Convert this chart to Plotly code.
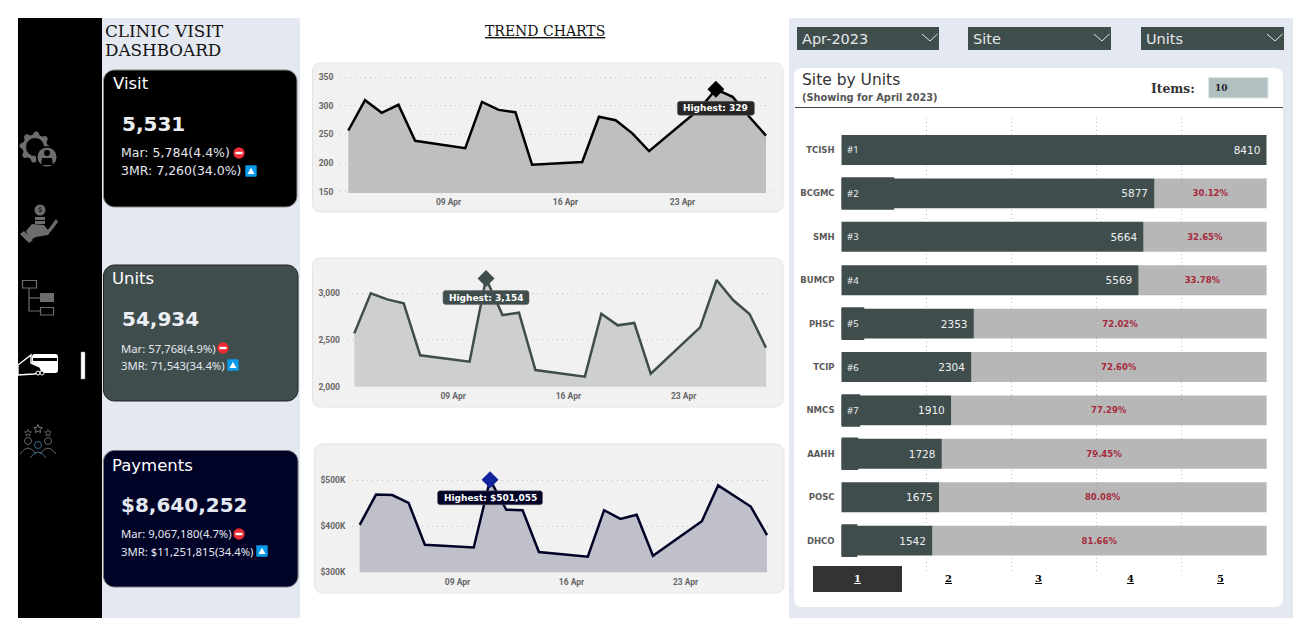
import math
import plotly.graph_objects as go

W, H = 1311, 636

# ---------- data ----------
dates = ["2023-04-03","2023-04-04","2023-04-05","2023-04-06","2023-04-07",
         "2023-04-10","2023-04-11","2023-04-12","2023-04-13","2023-04-14",
         "2023-04-17","2023-04-18","2023-04-19","2023-04-20","2023-04-21",
         "2023-04-24","2023-04-25","2023-04-26","2023-04-27","2023-04-28"]
visits = [257,310,288,302,239,226,307,293,289,197,202,281,275,252,221,294,329,316,281,248]
units = [2569,2996,2932,2890,2335,2267,3154,2765,2790,2178,2107,2779,2655,2680,2139,2633,3139,2925,2776,2416]
payments = [403000,469000,468000,451000,360000,354000,501055,436000,435000,344000,
            334000,435000,416000,425000,336000,411000,489000,466000,443000,381000]
date_ticks = ["2023-04-09","2023-04-16","2023-04-23"]

sites = ["TCISH","BCGMC","SMH","BUMCP","PHSC","TCIP","NMCS","AAHH","POSC","DHCO"]
site_units = [8410,5877,5664,5569,2353,2304,1910,1728,1675,1542]
gap_labels = ["","30.12%","32.65%","33.78%","72.02%","72.60%","77.29%","79.45%","80.08%","81.66%"]
rank_labels = ["#1","#2","#3","#4","#5","#6","#7","","",""]
rank_box = [None,799,None,None,214,None,136,97,None,78]
pages = ["1","2","3","4","5"]
AX_MIN, AX_MAX = -234, 8070

DARK = "#404d4d"
NAVY = "#000226"
SANS = "DejaVu Sans"
SERIF = "DejaVu Serif"
NOTO = "Noto Sans"

shapes, annos = [], []

def px(x): return x / W
def py(y): return 1 - y / H

def path(d, fill=None, line=None, lw=1, layer="below"):
    s = ""
    for it in d:
        if isinstance(it, str):
            s += it
        else:
            s += f"{it[0]}{px(it[1]):.5f},{py(it[2]):.5f} "
    shapes.append(dict(type="path", path=s, xref="paper", yref="paper", layer=layer,
                       fillcolor=fill or "rgba(0,0,0,0)",
                       line=dict(color=line or "rgba(0,0,0,0)", width=lw if line else 0)))

def rrect(x0, y0, x1, y1, r=0, fill=None, line=None, lw=1, layer="below"):
    if r == 0:
        d = [("M",x0,y0),("L",x1,y0),("L",x1,y1),("L",x0,y1),"Z"]
        path(d, fill, line, lw, layer)
        return
    c = 0.45 * r
    s = (f"M{px(x0+r):.5f},{py(y0):.5f} L{px(x1-r):.5f},{py(y0):.5f} "
         f"C{px(x1-c):.5f},{py(y0):.5f} {px(x1):.5f},{py(y0+c):.5f} {px(x1):.5f},{py(y0+r):.5f} "
         f"L{px(x1):.5f},{py(y1-r):.5f} "
         f"C{px(x1):.5f},{py(y1-c):.5f} {px(x1-c):.5f},{py(y1):.5f} {px(x1-r):.5f},{py(y1):.5f} "
         f"L{px(x0+r):.5f},{py(y1):.5f} "
         f"C{px(x0+c):.5f},{py(y1):.5f} {px(x0):.5f},{py(y1-c):.5f} {px(x0):.5f},{py(y1-r):.5f} "
         f"L{px(x0):.5f},{py(y0+r):.5f} "
         f"C{px(x0):.5f},{py(y0+c):.5f} {px(x0+c):.5f},{py(y0):.5f} {px(x0+r):.5f},{py(y0):.5f} Z")
    path([s], fill, line, lw, layer)

def circle(cx, cy, r, fill=None, line=None, lw=1, layer="below"):
    shapes.append(dict(type="circle", xref="paper", yref="paper", layer=layer,
                       x0=px(cx-r), x1=px(cx+r), y0=py(cy+r), y1=py(cy-r),
                       fillcolor=fill or "rgba(0,0,0,0)",
                       line=dict(color=line or "rgba(0,0,0,0)", width=lw if line else 0)))

def text(x, y, s, size, color="#000", family=SANS, anchor="left"):
    annos.append(dict(x=px(x), y=py(y), xref="paper", yref="paper", text=s, showarrow=False,
                      xanchor=anchor, yanchor="middle", borderpad=0, align=anchor,
                      font=dict(size=size, color=color, family=family)))

def poly(pts, fill=None, line=None, lw=1, close=True, layer="below"):
    d = [("M" if i == 0 else "L", p[0], p[1]) for i, p in enumerate(pts)]
    if close:
        d.append("Z")
    path(d, fill, line, lw, layer)

# ---------- page backgrounds ----------
PANEL = "#e4e8f0"
rrect(18, 18, 102, 618, fill="#000000")
rrect(102, 18, 300, 618, fill=PANEL)
rrect(789, 18, 1293, 618, fill=PANEL)
rrect(794, 68, 1283, 607, r=8, fill="#ffffff")

text(103.5, 31, "CLINIC VISIT", 16.8, "#111", SERIF)
text(103.5, 50, "DASHBOARD", 16.8, "#111", SERIF)
text(544.5, 31, "<u>TREND CHARTS</u>", 14, "#111", SERIF, "center")

# ---------- sidebar icons ----------
ICON = "#6d6d6d"
gear = []
for i in range(32):
    a = i / 32 * 2 * math.pi
    r = 15.5 if i % 4 in (0, 1) else 12.5
    gear.append((35 + r * math.cos(a), 147 + r * math.sin(a)))
poly(gear, fill=ICON)
circle(35, 147, 9.5, fill="#000", line=ICON, lw=1)
circle(47, 157, 11, fill="#000")
circle(47, 157, 9.5, fill=ICON)
circle(47, 153, 3, fill="#000")
poly([(41,165),(42,158),(52,158),(53,165)], fill="#000")
circle(40, 210, 5.5, fill=ICON)
text(40, 210, "$", 7, "#000", SANS, "center")
rrect(35, 217, 45, 220, fill=ICON)
rrect(35, 221, 45, 224, fill=ICON)
poly([(26,231),(32,224),(44,225),(48,230),(56,219),(58,222),(48,235),(36,237),(30,240)], fill=ICON)
poly([(20,234),(24,231),(33,240),(29,243)], fill=ICON)
rrect(22.5, 280.5, 36.5, 288, line=ICON, lw=1.2)
rrect(40, 293, 54, 302, fill=ICON)
rrect(40.5, 307.5, 53.5, 315, line=ICON, lw=1.2)
poly([(29,288),(29,311),(40,311)], line=ICON, lw=1.2, close=False)
poly([(29,298),(40,298)], line=ICON, lw=1.2, close=False)
rrect(32, 354, 58, 373, r=2.5, fill="#ffffff")
rrect(33, 358, 57, 361, fill="#000")
poly([(18,365),(31,355),(31,363),(40,367),(42,372),(34,374),(18,375)], fill="#000", line="#ffffff", lw=1.4)
circle(38, 373, 2, fill="#000", line="#fff", lw=1)
circle(42, 373, 2, fill="#000", line="#fff", lw=1)
rrect(81, 352, 85, 379, fill="#ffffff", line="#999", lw=0.5)

def star(cx, cy, r, col):
    pts = []
    for i in range(10):
        a = -math.pi / 2 + i * math.pi / 5
        q = r if i % 2 == 0 else r * 0.45
        pts.append((cx + q * math.cos(a), cy + q * math.sin(a)))
    poly(pts, line=col, lw=1)
star(28, 433, 3.5, "#5c5c5c"); star(38, 429, 4.5, "#777"); star(48, 433, 3.5, "#5c5c5c")
for cx, cy, col in [(28, 441, "#666"), (48, 441, "#666"), (38, 445, "#3d6f8a")]:
    circle(cx, cy, 3.5, line=col, lw=1)
for x0, x1, y0, y1, col in [(20, 36, 454, 446, "#666"), (40, 56, 454, 446, "#666"), (30, 46, 458, 450, "#3d6f8a")]:
    mid = (x0 + x1) / 2
    path([f"M{px(x0):.5f},{py(y0):.5f} Q{px(mid):.5f},{py(y1-4):.5f} {px(x1):.5f},{py(y0):.5f}"], line=col, lw=1)

# ---------- KPI cards ----------
def stop_icon(x, y):
    circle(x, y, 5.7, fill="#ee2b33")
    rrect(x-3.5, y-1.2, x+3.5, y+1.2, fill="#ffffff")

def up_icon(x, y):
    rrect(x-5.7, y-5.7, x+5.7, y+5.7, r=1, fill="#0a9be8")
    poly([(x-3.5, y+3), (x+3.5, y+3), (x, y-3.2)], fill="#ffffff")

rrect(103.5, 70, 297, 207, r=11, fill="#000000", line="#888", lw=1)
text(111.5, 83, "Visit", 16.5, "#ffffff")
text(121, 124, "<b>5,531</b>", 20, "#eceff4")
text(120, 152.5, "Mar: 5,784(4.4%)", 12.5, "#e4e8f0")
text(120, 170.5, "3MR: 7,260(34.0%)", 12.5, "#e4e8f0")
stop_icon(239, 153); up_icon(251, 171)

rrect(103.5, 265, 298, 401, r=11, fill=DARK, line="#222", lw=1)
text(111, 278.5, "Units", 16.5, "#ffffff")
text(121, 319, "<b>54,934</b>", 20, "#eceff4")
text(120, 348, "Mar: 57,768(4.9%)", 11.3, "#e4e8f0", NOTO)
text(120, 365.5, "3MR: 71,543(34.4%)", 11.3, "#e4e8f0", NOTO)
stop_icon(223, 348); up_icon(233, 365)

rrect(103.5, 450.5, 298, 587, r=11, fill=NAVY, line="#777", lw=1)
text(111, 465, "Payments", 16.5, "#ffffff")
text(120, 505, "<b>$8,640,252</b>", 20, "#e4e8f0")
text(120, 533.5, "Mar: 9,067,180(4.7%)", 11.3, "#e4e8f0", NOTO)
text(120, 551, "3MR: $11,251,815(34.4%)", 11.3, "#e4e8f0", NOTO)
stop_icon(239, 534); up_icon(262, 551)

# ---------- trend charts ----------
fig = go.Figure()
layout = {}
TICKF = dict(size=8.5, color="#666", family="Roboto", weight="bold")

def days(s):
    return int(s[-2:])

def trend(idx, values, tickvals, ticktext, panel, dom, x3, x28, y_a, y_b, line_col, fill_col,
          mark_col, label, tip_w, tip_col, tip_dy):
    xn = f"x{idx}"; yn = f"y{idx}"
    rrect(*panel, r=8, fill="#f1f1f1", line="#e4e4e4", lw=1)
    x0, x1, ytop, ybot = dom
    perday = (x28 - x3) / 25
    xr = [3 + (x0 - x3) / perday, 3 + (x1 - x3) / perday]
    def fmt(d):
        whole = int(d); frac = d - whole
        return f"2023-04-{whole:02d} {int(frac*24):02d}:{int((frac*24%1)*60):02d}"
    (va, pa), (vb, pb) = y_a, y_b
    per = (va - vb) / (pb - pa)
    yr = [vb - (ybot - pb) * per, va + (pa - ytop) * per]
    fig.add_trace(go.Scatter(x=dates, y=values, mode="lines", xaxis=xn, yaxis=yn, fill="tozeroy",
                             line=dict(color=line_col, width=2.5, shape="linear"),
                             fillcolor=fill_col, hoverinfo="skip", showlegend=False))
    peak = values.index(max(values))
    fig.add_trace(go.Scatter(x=[dates[peak]], y=[values[peak]], mode="markers", xaxis=xn, yaxis=yn,
                             marker=dict(symbol="diamond", size=13, color=mark_col),
                             hoverinfo="skip", showlegend=False, cliponaxis=False))
    layout["xaxis" + str(idx)] = dict(domain=[px(x0), px(x1)], range=[fmt(xr[0]), fmt(xr[1])], type="date",
                                      anchor=yn, tickvals=date_ticks, ticktext=["09 Apr", "16 Apr", "23 Apr"],
                                      showgrid=False, zeroline=False, showline=False, ticks="outside",
                                      ticklen=1, tickcolor="rgba(0,0,0,0)", automargin=False, tickfont=TICKF)
    layout["yaxis" + str(idx)] = dict(domain=[py(ybot), py(ytop)], range=yr, anchor=xn,
                                      tickvals=tickvals, ticktext=ticktext, showgrid=True,
                                      gridcolor="#c6c6c6", griddash="1px,4px", gridwidth=1, zeroline=False,
                                      showline=False, ticks="outside", ticklen=4, tickcolor="rgba(0,0,0,0)",
                                      automargin=False, tickfont=TICKF)
    mx = x3 + (days(dates[peak]) - 3) * perday
    my = pa + (va - values[peak]) / per
    cy = my + tip_dy
    rrect(mx - tip_w / 2, cy - 7, mx + tip_w / 2, cy + 7, r=2.5, fill=tip_col, line="#666", lw=0.5, layer="above")
    text(mx, cy, "<b>" + label + "</b>", 9, "#ffffff", SANS, "center")

trend(1, visits, [150,200,250,300,350], ["150","200","250","300","350"],
      (312.5, 63, 783, 212), (340, 773, 66, 193), 348.3, 766, (350, 77.3), (150, 191.7),
      "#000000", "#bfbfbf", "#000000", "Highest: 329", 77, "#262626", 19)
trend(2, units, [2000,2500,3000], ["2,000","2,500","3,000"],
      (312.5, 258, 783, 407), (346.7, 771, 262, 386.7), 354.3, 766, (3000, 293), (2000, 386.7),
      DARK, "#cdd0cf", DARK, "Highest: 3,154", 86, DARK, 19)
trend(3, payments, [300000,400000,500000], ["$300K","$400K","$500K"],
      (314.5, 444, 784, 593), (352, 772, 450, 572.3), 359.7, 767, (500000, 480.3), (300000, 572.3),
      NAVY, "#bfc0ca", "#14249c", "Highest: $501,055", 105, NAVY, 18)

# ---------- right panel header ----------
for (x0, x1, s) in [(797, 939, "Apr-2023"), (968, 1111, "Site"), (1141, 1284, "Units")]:
    rrect(x0, 27, x1, 50, fill=DARK)
    text(x0 + 4, 39, s, 14.5, "#e4e8e8")
    poly([(x1-17, 34), (x1-9, 41), (x1-1.5, 34)], line="#e4e8e8", lw=1, close=False)

text(801, 80, "Site by Units", 15.5, "#333")
text(801, 97.5, "<b>(Showing for April 2023)</b>", 9.8, "#555")
text(1150, 88.5, "<b>Items:</b>", 12.3, "#333", "DejaVu Serif")
rrect(1208.5, 77.5, 1268, 98, fill="#b1c1c1", line="#dfe4e4", lw=1)
text(1214, 88, "<b>10</b>", 9, "#222", "DejaVu Serif")
poly([(795, 107.5), (1283, 107.5)], line="#444", lw=1, close=False)

# ---------- bar chart ----------
BX0, BX1 = 841.3, 1266.7
row0, rowh = 150, 43.4
ytop, ybot = 118, 573
drawn = [min(v, AX_MAX) for v in site_units]
gaps = [AX_MAX - v for v in drawn]
fig.add_trace(go.Bar(y=sites, x=gaps, base=drawn, orientation="h", xaxis="x4", yaxis="y4", width=0.69,
                     marker=dict(color="#b7b7b7", line=dict(width=0)), text=gap_labels, textposition="inside",
                     insidetextanchor="middle", textangle=0, constraintext="none",
                     textfont=dict(size=8.5, color="#a62a3c", family=SANS, weight="bold"),
                     hoverinfo="skip", showlegend=False))
fig.add_trace(go.Bar(y=sites, x=[None if b is None else b - AX_MIN for b in rank_box], base=AX_MIN,
                     orientation="h", xaxis="x4", yaxis="y4", width=0.75,
                     marker=dict(color=DARK, line=dict(width=0)), hoverinfo="skip", showlegend=False))
fig.add_trace(go.Bar(y=sites, x=[v - AX_MIN for v in drawn], base=AX_MIN, orientation="h",
                     xaxis="x4", yaxis="y4", width=0.69,
                     marker=dict(color=DARK, line=dict(width=0)), text=[f"{v}\u00a0" for v in site_units],
                     textposition="inside", insidetextanchor="end", textangle=0, constraintext="none",
                     textfont=dict(size=10.5, color="#eef0f0", family=SANS),
                     hoverinfo="skip", showlegend=False))
STEP = (AX_MAX - AX_MIN) / 5
layout["xaxis4"] = dict(domain=[px(BX0), px(BX1)], range=[AX_MIN, AX_MAX], anchor="y4", tick0=AX_MIN, dtick=STEP,
                        showgrid=True, gridcolor="#bdbdbd", griddash="1px,3px", gridwidth=1, zeroline=False,
                        showline=False, showticklabels=False, ticks="", automargin=False)
layout["yaxis4"] = dict(domain=[py(ybot), py(ytop)], type="category", categoryorder="array", categoryarray=sites,
                        range=[(ybot - row0) / rowh, (ytop - row0) / rowh], anchor="x4", showgrid=False,
                        zeroline=False, showline=False, ticks="outside", ticklen=4, tickcolor="rgba(0,0,0,0)",
                        automargin=False, tickfont=dict(size=8.5, color="#5a5a5a", family=SANS, weight="bold"))
for i, v in enumerate(drawn):
    for k in range(1, 6):
        t = AX_MIN + STEP * k
        if t > v + 1:
            shapes.append(dict(type="line", xref="x4", yref="y4", x0=t, x1=t, y0=i - 0.345, y1=i + 0.345,
                               layer="above", line=dict(color="#a9a9a9", width=1, dash="1px,3px")))
for i, s in enumerate(rank_labels):
    if s:
        annos.append(dict(x=AX_MIN, y=i, xref="x4", yref="y4", xshift=5, xanchor="left", yanchor="middle", text=s,
                          showarrow=False, borderpad=0, font=dict(size=9.5, color="#eef0f0", family=NOTO)))

# ---------- pagination ----------
rrect(813, 566, 902, 592, fill="#333333")
for s, x in zip(pages, [857, 948, 1038, 1130, 1220]):
    text(x, 578.5, f"<b><u>{s}</u></b>", 10, "#ffffff" if s == "1" else "#000000", "DejaVu Serif", "center")

fig.update_layout(width=W, height=H, margin=dict(l=0, r=0, t=0, b=0), autosize=False,
                  paper_bgcolor="#ffffff", plot_bgcolor="rgba(0,0,0,0)", barmode="overlay",
                  showlegend=False, shapes=shapes, annotations=annos, **layout)

fig.write_html("out.html", config={"displayModeBar": False},
               post_script="document.body.style.margin='0';")
